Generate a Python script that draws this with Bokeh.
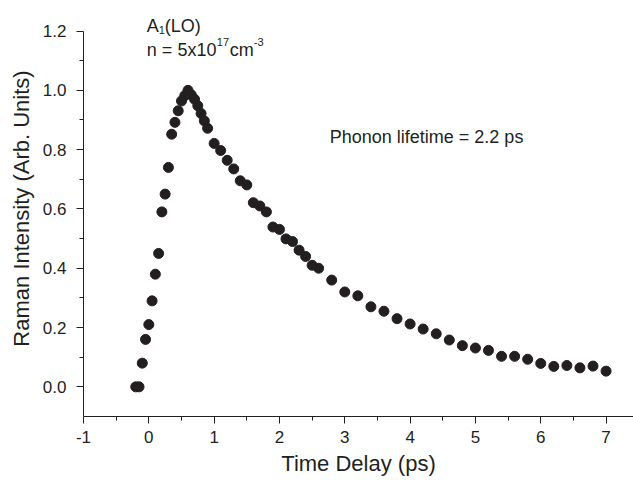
from bokeh.plotting import figure
from bokeh.models import FixedTicker, NumeralTickFormatter, Label, Range1d
from bokeh.embed import file_html
from bokeh.resources import INLINE

# ---- data ----
time_delay = [-0.2, -0.15, -0.1, -0.05, 0.0, 0.05, 0.1, 0.15, 0.2, 0.25, 0.3, 0.35,
              0.4, 0.45, 0.5, 0.55, 0.6, 0.65, 0.7, 0.75, 0.8, 0.85, 0.9,
              1.0, 1.1, 1.2, 1.3, 1.4, 1.5, 1.6, 1.7, 1.8, 1.9, 2.0, 2.1, 2.2,
              2.3, 2.4, 2.5, 2.6, 2.8, 3.0, 3.2, 3.4, 3.6, 3.8, 4.0, 4.2, 4.4,
              4.6, 4.8, 5.0, 5.2, 5.4, 5.6, 5.8, 6.0, 6.2, 6.4, 6.6, 6.8, 7.0]
intensity = [0.0, 0.0, 0.08, 0.16, 0.21, 0.29, 0.38, 0.45, 0.59, 0.65, 0.74, 0.852,
             0.892, 0.931, 0.964, 0.982, 1.0, 0.985, 0.97, 0.948, 0.922, 0.897, 0.872,
             0.821, 0.797, 0.764, 0.735, 0.695, 0.681, 0.621, 0.61, 0.59, 0.539, 0.531,
             0.499, 0.49, 0.461, 0.44, 0.41, 0.40, 0.36, 0.32, 0.307, 0.27, 0.255,
             0.23, 0.212, 0.195, 0.179, 0.158, 0.139, 0.131, 0.123, 0.103, 0.103,
             0.093, 0.079, 0.069, 0.072, 0.064, 0.07, 0.053]

x_major_ticks = [-1, 0, 1, 2, 3, 4, 5, 6, 7]
x_minor_ticks = [-0.5, 0.5, 1.5, 2.5, 3.5, 4.5, 5.5, 6.5]
y_major_ticks = [0.0, 0.2, 0.4, 0.6, 0.8, 1.0, 1.2]
y_minor_ticks = [0.1, 0.3, 0.5, 0.7, 0.9, 1.1]

x_label = "Time Delay (ps)"
y_label = "Raman Intensity (Arb. Units)"
lifetime_text = "Phonon lifetime = 2.2 ps"

INK = "#231f20"
FONT = "Liberation Sans"

p = figure(width=633, height=481, output_backend="svg", toolbar_location=None,
           x_range=Range1d(-1, 7.42), y_range=Range1d(-0.1, 1.303),
           min_border_left=83, min_border_right=0, min_border_top=0,
           min_border_bottom=65)
p.outline_line_color = None
p.xgrid.visible = False
p.ygrid.visible = False
p.background_fill_color = "white"
p.border_fill_color = "white"

p.scatter(time_delay, intensity, size=10, color=INK, line_color=INK)

for ax in (p.xaxis[0], p.yaxis[0]):
    ax.axis_line_color = INK
    ax.axis_line_width = 1
    ax.major_tick_line_color = INK
    ax.minor_tick_line_color = INK
    ax.major_tick_out = 7
    ax.major_tick_in = 0
    ax.minor_tick_out = 4
    ax.minor_tick_in = 0
    ax.major_label_text_font = FONT
    ax.major_label_text_font_size = "17px"
    ax.major_label_text_color = INK
    ax.axis_label_text_font = FONT
    ax.axis_label_text_font_size = "22px"
    ax.axis_label_text_font_style = "normal"
    ax.axis_label_text_color = INK

p.xaxis[0].ticker = FixedTicker(ticks=x_major_ticks, minor_ticks=x_minor_ticks)
p.yaxis[0].ticker = FixedTicker(ticks=y_major_ticks, minor_ticks=y_minor_ticks)
p.yaxis[0].bounds = (-0.1, 1.2)
p.xaxis[0].formatter = NumeralTickFormatter(format="0")
p.yaxis[0].formatter = NumeralTickFormatter(format="0.0")
p.xaxis[0].axis_label = x_label
p.yaxis[0].axis_label = y_label
p.xaxis[0].major_label_standoff = 7
p.xaxis[0].axis_label_standoff = 5
p.yaxis[0].major_label_standoff = 10
p.yaxis[0].axis_label_standoff = 6


def add_text(x, y, text, size, dx=0, dy=0):
    p.add_layout(Label(x=x, y=y, text=text, x_offset=dx, y_offset=dy,
                       text_font=FONT, text_font_size=size, text_color=INK,
                       text_baseline="alphabetic", text_align="left"))


# A1(LO)
ax0, ay0 = -0.03, 1.217
add_text(ax0, ay0, "A", "18px")
add_text(ax0, ay0, "1", "11px", dx=12, dy=-4)
add_text(ax0, ay0, "(LO)", "18px", dx=18)

# n = 5x10^17 cm^-3
bx0, by0 = -0.03, 1.136
add_text(bx0, by0, "n = 5x10", "18px")
add_text(bx0, by0, "17", "11px", dx=70, dy=8)
add_text(bx0, by0, "cm", "18px", dx=83)
add_text(bx0, by0, "-3", "11px", dx=107, dy=8)

# Phonon lifetime
add_text(2.77, 0.842, lifetime_text, "18px")

open("out.html", "w").write(file_html(p, INLINE))
